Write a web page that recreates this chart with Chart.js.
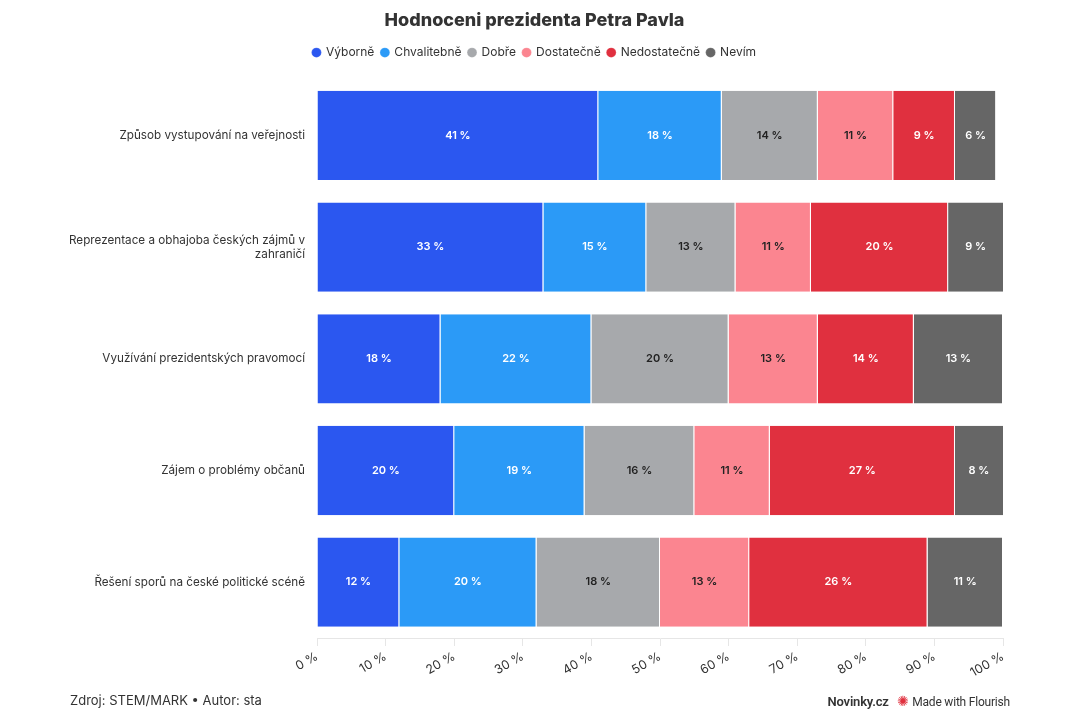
<!DOCTYPE html>
<html>
<head>
<meta charset="utf-8">
<script src="https://cdn.jsdelivr.net/npm/chart.js@4"></script>
<style>
  html, body { margin: 0; padding: 0; background: #fff; }
  #wrap { position: relative; width: 1080px; height: 720px; }
  #foot { position: absolute; left: 70px; top: 692px; font: 13px Inter, "Noto Sans", sans-serif; color: #333; }
  #brand { position: absolute; right: 70px; top: 693px; font: 12px "Liberation Sans Narrow", "Roboto", sans-serif; color: #333; letter-spacing: -0.2px; }
  #brand b { font-size: 13px; font-weight: 600; }
  #brand .star { color: #e0303e; font-size: 14px; margin: 0 3px 0 6px; }
</style>
</head>
<body>
<div id="wrap">
  <canvas id="myChart" width="1080" height="720"></canvas>
  <div id="foot">Zdroj: STEM/MARK • Autor: sta</div>
  <div id="brand"><b>Novinky.cz</b> <span class="star">✺</span>Made with Flourish</div>
</div>
<script>
const categories = [
    "Způsob vystupování na veřejnosti",
    ["Reprezentace a obhajoba českých zájmů v", "zahraničí"],
    "Využívání prezidentských pravomocí",
    "Zájem o problémy občanů",
    "Řešení sporů na české politické scéně"
];
const seriesNames = ["Výborně", "Chvalitebně", "Dobře", "Dostatečně", "Nedostatečně", "Nevím"];
const vyborne = [41, 33, 18, 20, 12];
const chvalitebne = [18, 15, 22, 19, 20];
const dobre = [14, 13, 20, 16, 18];
const dostatecne = [11, 11, 13, 11, 13];
const nedostatecne = [9, 20, 14, 27, 26];
const nevim = [6, 9, 13, 8, 11];
const tickLabels = ["0 %", "10 %", "20 %", "30 %", "40 %", "50 %", "60 %", "70 %", "80 %", "90 %", "100 %"];

const colors = ["#2b57f0", "#2b9af7", "#a7a9ac", "#fb8590", "#e0303f", "#666666"];
const labelColors = ["#fff", "#fff", "#222", "#222", "#fff", "#fff"];
const values = [vyborne, chvalitebne, dobre, dostatecne, nedostatecne, nevim];

// draws the "NN %" text in the middle of each bar segment
const barLabels = {
    id: 'barLabels',
    afterDatasetsDraw(chart) {
        const ctx = chart.ctx;
        ctx.save();
        ctx.font = "600 11px Inter, sans-serif";
        ctx.textAlign = "center";
        ctx.textBaseline = "middle";
        chart.data.datasets.forEach(function (ds, i) {
            chart.getDatasetMeta(i).data.forEach(function (bar, j) {
                const right = Math.min(bar.x, chart.chartArea.right);
                const cx = (right + bar.base) / 2;
                ctx.fillStyle = labelColors[i];
                ctx.fillText(ds.data[j] + " %", cx, bar.y);
            });
        });
        ctx.restore();
    }
};

// a bit of space between the legend and the bars
const legendGap = {
    id: 'legendGap',
    beforeInit(chart) {
        const fit = chart.legend.fit;
        chart.legend.fit = function () {
            fit.bind(chart.legend)();
            this.height += 11;
        };
    }
};

const ctx = document.getElementById('myChart').getContext('2d');
const myChart = new Chart(ctx, {
    type: 'bar',
    data: {
        labels: categories,
        datasets: seriesNames.map(function (name, i) {
            return {
                label: name,
                data: values[i],
                backgroundColor: colors[i],
                borderColor: '#ffffff',
                borderWidth: { left: 0, right: 1, top: 0, bottom: 0 },
                borderSkipped: false,
                barPercentage: 0.8,
                categoryPercentage: 1.0
            };
        })
    },
    plugins: [barLabels, legendGap],
    options: {
        responsive: false,
        animation: false,
        indexAxis: 'y',
        layout: { padding: { left: 66, right: 77, top: 0, bottom: 0 } },
        plugins: {
            title: {
                display: true,
                text: 'Hodnoceni prezidenta Petra Pavla',
                color: '#333',
                font: { family: 'Inter', size: 18, weight: '800' },
                padding: { top: 10, bottom: 8 }
            },
            legend: {
                position: 'top',
                labels: {
                    usePointStyle: true,
                    pointStyle: 'circle',
                    boxWidth: 7,
                    boxHeight: 7,
                    padding: 7,
                    color: '#333',
                    font: { family: 'Inter', size: 12 }
                }
            },
            tooltip: { enabled: false }
        },
        scales: {
            x: {
                stacked: true,
                min: 0,
                max: 100,
                grid: { drawOnChartArea: false, drawTicks: true, tickLength: 8, color: '#e6e6e6' },
                border: { display: true, color: '#e6e6e6' },
                ticks: {
                    stepSize: 10,
                    minRotation: 30,
                    maxRotation: 30,
                    color: '#333',
                    font: { family: 'Inter', size: 12.5 },
                    callback: function (v, i) { return tickLabels[i]; }
                },
                afterFit: function (scale) { scale.height = 82; }
            },
            y: {
                stacked: true,
                grid: { display: false },
                border: { display: false },
                ticks: {
                    color: '#333',
                    padding: 4,
                    font: { family: 'Inter', size: 11.7 }
                },
                afterFit: function (scale) { scale.width = 251; }
            }
        }
    }
});
</script>
</body>
</html>
